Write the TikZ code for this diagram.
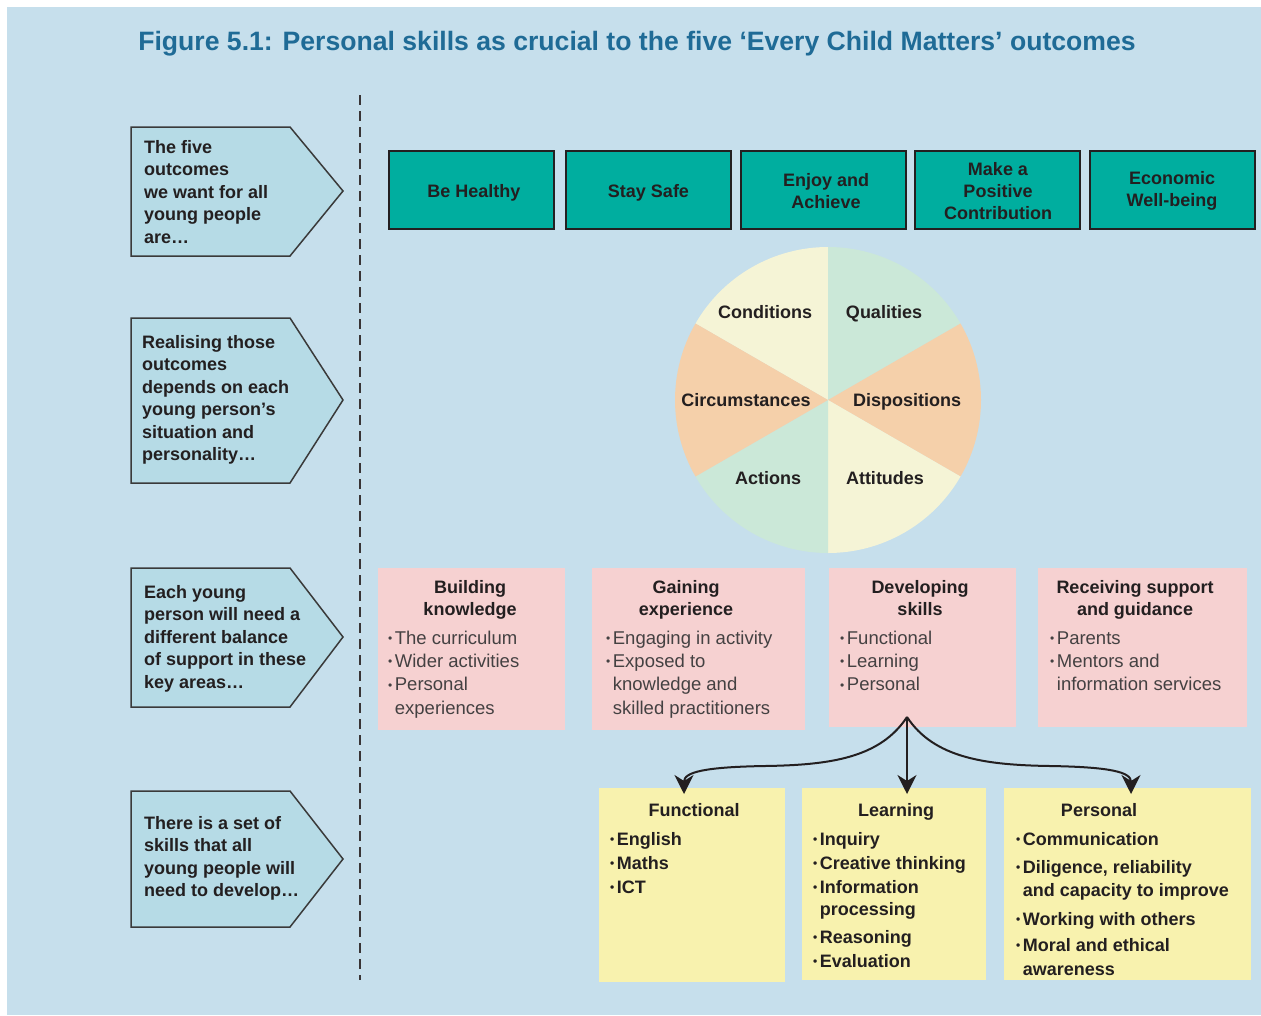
\documentclass[tikz,border=0pt]{standalone}
\usepackage{fontspec}
\setmainfont{Liberation Sans}
\usetikzlibrary{arrows.meta}

\definecolor{bg}{HTML}{C6DFEC}
\definecolor{sign}{HTML}{B6DBE6}
\definecolor{signline}{HTML}{3A3A3A}
\definecolor{outcome}{HTML}{00AE9F}
\definecolor{ink}{HTML}{231F20}
\definecolor{titleblue}{HTML}{1F6B96}
\definecolor{cream}{HTML}{F5F4D6}
\definecolor{mint}{HTML}{CBE8D8}
\definecolor{peach}{HTML}{F5D0AA}
\definecolor{rose}{HTML}{F6D1D1}
\definecolor{lemon}{HTML}{F8F2AE}

\newcommand\fst{\rule{0pt}{13.5pt}}
\newcommand\bul{\raisebox{1.6pt}{\fontsize{12}{12}\selectfont\textbullet}\hspace{2.5pt}}
\newcommand\nobul{\hphantom{\bul}}

\tikzset{
  signtext/.style={anchor=north west, inner sep=0pt, align=left, text=ink,
    font=\fontsize{18}{22.5}\selectfont\bfseries},
  signshape/.style={fill=sign, draw=signline, line width=1.5pt, line join=miter},
  outcomebox/.style={fill=outcome, draw=ink, line width=2pt, minimum width=165,
    minimum height=78, inner sep=0pt, align=center, text=ink,
    font=\fontsize{18}{22}\selectfont\bfseries},
  pielabel/.style={anchor=base, inner sep=0pt, text=ink,
    font=\fontsize{18}{22}\selectfont\bfseries},
  areabox/.style={fill=rose, inner sep=0pt},
  skillbox/.style={fill=lemon, inner sep=0pt},
  boxhead/.style={anchor=north, inner sep=0pt, align=center, text=ink,
    font=\fontsize{18}{22}\selectfont\bfseries},
  arealist/.style={anchor=north west, inner sep=0pt, align=left, text=ink!85,
    font=\fontsize{18.5}{23.3}\selectfont},
  skilllist/.style={anchor=north west, inner sep=0pt, align=left, text=ink,
    font=\fontsize{18}{22}\selectfont\bfseries},
  conn/.style={draw=ink, line width=2pt,
    -{Stealth[length=19pt,width=19pt,inset=6pt]}}
}

\begin{document}
\begin{tikzpicture}[x=1pt,y=-1pt]
\useasboundingbox (0,0) rectangle (1261,1015);
\fill[bg] (7,7) rectangle (1261,1015);

% heading
\node[anchor=base, inner sep=0pt, text=titleblue,
  font=\fontsize{26.6}{30}\selectfont\bfseries] (heading) at (637,50)
  {Figure 5.1: Personal skills as crucial to the five ‘Every Child Matters’ outcomes};

% divider
\draw[ink!90, line width=2pt, dash pattern=on 10pt off 6pt] (360,95) -- (360,980);

% left-hand signposts
\draw[signshape] (131,127) -- (290,127) -- (343,191) -- (290,256) -- (131,256) -- cycle;
\node[signtext] (s1) at (144,139.5)
  {\fst The five\\outcomes\\we want for all\\young people\\are…};

\draw[signshape] (131,318) -- (290,318) -- (343,400) -- (290,483) -- (131,483) -- cycle;
\node[signtext] (s2) at (142,334.5)
  {\fst Realising those\\outcomes\\depends on each\\young person’s\\situation and\\personality…};

\draw[signshape] (131,568) -- (290,568) -- (343,637) -- (290,707) -- (131,707) -- cycle;
\node[signtext] (s3) at (144,584.5)
  {\fst Each young\\person will need a\\different balance\\of support in these\\key areas…};

\draw[signshape] (131,791) -- (290,791) -- (343,859) -- (290,927) -- (131,927) -- cycle;
\node[signtext] (s4) at (144,815.5)
  {\fst There is a set of\\skills that all\\young people will\\need to develop…};

% the five outcomes
\node[outcomebox] (o1) at (471.5,190) {};
\node[outcomebox] (o2) at (648.5,190) {};
\node[outcomebox] (o3) at (823.5,190) {};
\node[outcomebox] (o4) at (997,190) {};
\node[outcomebox] (o5) at (1172,190) {};
\node[outcomebox, draw=none, fill=none] (o1t) at (474,193) {Be Healthy};
\node[outcomebox, draw=none, fill=none] (o2t) at (648.5,193) {Stay Safe};
\node[outcomebox, draw=none, fill=none] (o3t) at (826,191) {Enjoy and\\Achieve};
\node[outcomebox, draw=none, fill=none] (o4t) at (998,191) {Make a\\Positive\\Contribution};
\node[outcomebox, draw=none, fill=none] (o5t) at (1172,191) {Economic\\Well-being};

% situation and personality wheel
\coordinate (hub) at (828,400);
\fill[cream] (hub) -- ++(-90:153) arc[start angle=-90, end angle=-150, radius=153] -- cycle;
\fill[mint]  (hub) -- ++(-30:153) arc[start angle=-30, end angle=-90, radius=153] -- cycle;
\fill[peach] (hub) -- ++(30:153) arc[start angle=30, end angle=-30, radius=153] -- cycle;
\fill[cream] (hub) -- ++(90:153) arc[start angle=90, end angle=30, radius=153] -- cycle;
\fill[mint]  (hub) -- ++(150:153) arc[start angle=150, end angle=90, radius=153] -- cycle;
\fill[peach] (hub) -- ++(210:153) arc[start angle=210, end angle=150, radius=153] -- cycle;
\node[pielabel] (w1) at (765,318) {Conditions};
\node[pielabel] (w2) at (884,318) {Qualities};
\node[pielabel] (w3) at (746,406) {Circumstances};
\node[pielabel] (w4) at (907,406) {Dispositions};
\node[pielabel] (w5) at (768,484) {Actions};
\node[pielabel] (w6) at (885,484) {Attitudes};

% key areas of support
\node[areabox, minimum width=187, minimum height=162] (a1) at (471.5,649) {};
\node[areabox, minimum width=213, minimum height=162] (a2) at (698.5,649) {};
\node[areabox, minimum width=187, minimum height=159] (a3) at (922.5,647.5) {};
\node[areabox, minimum width=209, minimum height=159] (a4) at (1142.5,647.5) {};

\node[boxhead] (a1h) at (470,579.5) {\fst Building\\knowledge};
\node[arealist] (a1l) at (388,630.5)
  {\fst\bul The curriculum\\\bul Wider activities\\\bul Personal\\\nobul experiences};
\node[boxhead] (a2h) at (686,579.5) {\fst Gaining\\experience};
\node[arealist] (a2l) at (606,630.5)
  {\fst\bul Engaging in activity\\\bul Exposed to\\\nobul knowledge and\\\nobul skilled practitioners};
\node[boxhead] (a3h) at (920,579.5) {\fst Developing\\skills};
\node[arealist] (a3l) at (840,630.5)
  {\fst\bul Functional\\\bul Learning\\\bul Personal};
\node[boxhead] (a4h) at (1135,579.5) {\fst Receiving support\\and guidance};
\node[arealist] (a4l) at (1050,630.5)
  {\fst\bul Parents\\\bul Mentors and\\\nobul information services};

% the skill set
\node[skillbox, minimum width=186, minimum height=194] (k1) at (692,885) {};
\node[skillbox, minimum width=184, minimum height=192] (k2) at (894,884) {};
\node[skillbox, minimum width=247, minimum height=192] (k3) at (1127.5,884) {};

\node[boxhead] (k1h) at (694,802.5) {\fst Functional};
\node[skilllist] (k1l) at (610,831.5)
  {\fst\bul English\\[2pt]\bul Maths\\[2pt]\bul ICT};
\node[boxhead] (k2h) at (896,802.5) {\fst Learning};
\node[skilllist] (k2l) at (813,831.5)
  {\fst\bul Inquiry\\[2pt]\bul Creative thinking\\[2pt]\bul Information\\\nobul processing\\[6pt]\bul Reasoning\\[2pt]\bul Evaluation};
\node[boxhead] (k3h) at (1099,802.5) {\fst Personal};
\node[skilllist] (k3l) at (1016,831.5)
  {\fst\bul Communication\\[6pt]\bul Diligence, reliability\\[1pt]\nobul and capacity to improve\\[7pt]\bul Working with others\\[4pt]\bul Moral and ethical\\[2pt]\nobul awareness};

% skills branch out of "Developing skills"
\coordinate (split) at (907,717);
\coordinate (tipF) at (684,794);
\coordinate (tipL) at (907,794);
\coordinate (tipP) at (1131,794);
\draw[conn] (split) -- (tipL);
\draw[conn] (split) .. controls (880,758) and (830,765) .. (765,766)
  .. controls (705,767) and (684,772) .. (tipF);
\draw[conn] (split) .. controls (934,758) and (985,765) .. (1050,766)
  .. controls (1110,767) and (1131,772) .. (tipP);
\end{tikzpicture}
\end{document}
